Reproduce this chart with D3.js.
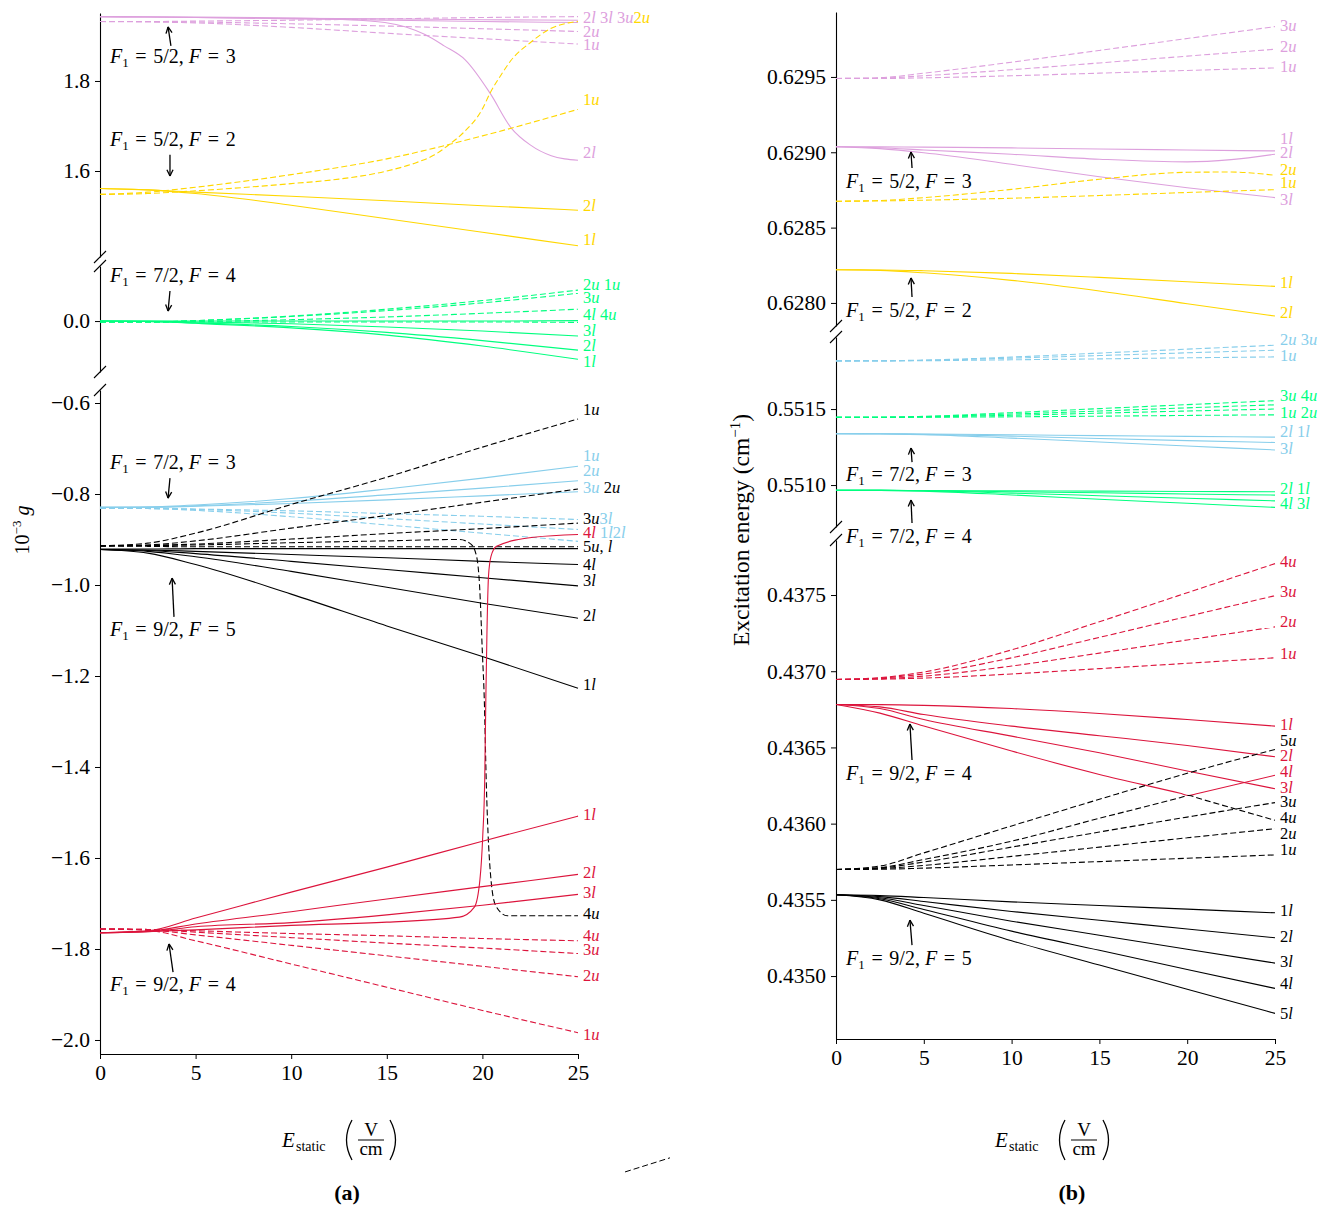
<!DOCTYPE html>
<html lang="en">
<head>
<meta charset="utf-8">
<title>Stark maps</title>
<script src="https://cdn.jsdelivr.net/npm/d3@7"></script>
<style>
  body { margin: 0; background: #fff; }
  svg text { font-family: "Liberation Serif", "DejaVu Serif", serif; }
</style>
</head>
<body>
<script>
"use strict";

// field values shared by most series
const E = [0, 2.5, 5, 10, 15, 20, 25];

// ---------- panel (a): 10^-3 g ----------
const aTopPlumSolid = [
  [1.943, 1.942, 1.941, 1.939, 1.938, 1.936, 1.935],
  [1.943, 1.942, 1.941, 1.938, 1.935, 1.932, 1.930]
];
const aTopPlumDiveE = [0, 5, 10, 12.5, 14.9, 16, 17, 18, 19.1, 20.4, 21.5, 22.5, 23.6, 24.3, 25];
const aTopPlumDive  = [1.943, 1.942, 1.940, 1.937, 1.930, 1.920, 1.903, 1.878, 1.847, 1.773, 1.696, 1.658, 1.634, 1.627, 1.624];
const aTopPlumDashed = [
  [1.932, 1.932, 1.933, 1.935, 1.938, 1.941, 1.943],
  [1.932, 1.932, 1.931, 1.927, 1.922, 1.916, 1.910],
  [1.932, 1.931, 1.929, 1.919, 1.906, 1.894, 1.882]
];
const aTopGoldSolid = [
  [1.561, 1.558, 1.553, 1.544, 1.534, 1.523, 1.513],
  [1.561, 1.558, 1.550, 1.524, 1.494, 1.464, 1.434]
];
const aTopGoldDashed = [
  [1.548, 1.553, 1.564, 1.592, 1.627, 1.678, 1.737]
];
const aTopGoldCrossE = [0, 2.5, 5, 10, 12.5, 15, 16.5, 17.5, 18.3, 19, 20, 20.4, 21, 21.5, 22.5, 23.6, 24.5, 25];
const aTopGoldCross  = [1.548, 1.550, 1.556, 1.572, 1.582, 1.600, 1.618, 1.636, 1.660, 1.685, 1.738, 1.773, 1.815, 1.846, 1.885, 1.917, 1.929, 1.932];

const aMidGreenSolid = [
  [0, -0.001, -0.005, -0.015, -0.031, -0.055, -0.084],
  [0, -0.001, -0.004, -0.012, -0.025, -0.043, -0.064],
  [0, 0, -0.002, -0.006, -0.013, -0.022, -0.033],
  [0, 0, 0, 0, 0, 0, 0.001]
];
const aMidGreenDashed = [
  [-0.002, -0.002, 0.001, 0.010, 0.023, 0.040, 0.061],
  [-0.002, -0.002, 0.001, 0.011, 0.026, 0.045, 0.068],
  [-0.002, -0.002, -0.001, 0.003, 0.009, 0.017, 0.026],
  [-0.002, -0.002, -0.002, -0.002, -0.002, -0.002, -0.003]
];

const aLowSkySolid = [
  [-0.829, -0.828, -0.824, -0.810, -0.789, -0.765, -0.739],
  [-0.829, -0.829, -0.826, -0.816, -0.802, -0.787, -0.771],
  [-0.829, -0.829, -0.827, -0.821, -0.813, -0.804, -0.795]
];
const aLowSkyDashed = [
  [-0.831, -0.831, -0.833, -0.837, -0.843, -0.849, -0.856],
  [-0.831, -0.832, -0.834, -0.842, -0.854, -0.866, -0.878],
  [-0.831, -0.832, -0.836, -0.850, -0.868, -0.886, -0.904]
];
const aLowBlackSolid = [
  [-0.922, -0.930, -0.955, -1.020, -1.090, -1.157, -1.227],
  [-0.922, -0.926, -0.938, -0.970, -1.005, -1.040, -1.073],
  [-0.922, -0.924, -0.931, -0.948, -0.966, -0.984, -1.002],
  [-0.922, -0.923, -0.926, -0.933, -0.940, -0.948, -0.955],
  [-0.921, -0.921, -0.920, -0.920, -0.920, -0.920, -0.920]
];
const aLowBlackDashed = [
  [-0.914, -0.908, -0.886, -0.823, -0.763, -0.697, -0.635],
  [-0.914, -0.912, -0.903, -0.875, -0.847, -0.818, -0.789],
  [-0.914, -0.913, -0.910, -0.899, -0.887, -0.876, -0.864],
  [-0.914, -0.915, -0.916, -0.916, -0.916, -0.916, -0.916]
];
const aLowBlackSwapE = [0, 5, 10, 15, 18.8, 19.4, 19.7, 19.85, 20.0, 20.1, 20.2, 20.45, 20.7, 21.3, 25];
const aLowBlackSwap  = [-0.914, -0.912, -0.907, -0.903, -0.900, -0.910, -0.938, -1.000, -1.150, -1.253, -1.430, -1.648, -1.705, -1.727, -1.727];
const aLowRedSolid = [
  [-1.764, -1.760, -1.732, -1.675, -1.620, -1.563, -1.508],
  [-1.764, -1.761, -1.745, -1.718, -1.690, -1.663, -1.636],
  [-1.764, -1.762, -1.751, -1.742, -1.725, -1.704, -1.680]
];
const aLowRedSwapE = [0, 5, 10, 15, 18.8, 19.58, 19.87, 20.02, 20.12, 20.18, 20.24, 20.32, 20.45, 20.74, 22.7, 25];
const aLowRedSwap  = [-1.765, -1.758, -1.748, -1.741, -1.730, -1.708, -1.648, -1.55, -1.43, -1.25, -1.10, -0.98, -0.937, -0.915, -0.895, -0.889];
const aLowRedDashed = [
  [-1.756, -1.759, -1.782, -1.833, -1.884, -1.935, -1.984],
  [-1.756, -1.758, -1.769, -1.792, -1.815, -1.838, -1.861],
  [-1.756, -1.757, -1.763, -1.775, -1.787, -1.798, -1.810],
  [-1.756, -1.757, -1.760, -1.766, -1.771, -1.777, -1.782]
];

// ---------- panel (b): excitation energy ----------
const bTopPlumDashed = [
  [0.62949, 0.629495, 0.629525, 0.629598, 0.629676, 0.629755, 0.629834],
  [0.62949, 0.629492, 0.629508, 0.629548, 0.629593, 0.629638, 0.629684],
  [0.62949, 0.62949, 0.629494, 0.629508, 0.629525, 0.629543, 0.62956]
];
const bTopPlumSolid = [
  [0.629037, 0.629036, 0.629034, 0.629029, 0.629022, 0.629015, 0.629009],
  [0.629037, 0.629024, 0.628997, 0.628920, 0.628838, 0.628765, 0.628699]
];
const bTopPlumDipE = [0, 2.5, 5, 10, 15, 20, 22.5, 25];
const bTopPlumDip  = [0.629037, 0.629030, 0.629015, 0.628987, 0.628954, 0.628936, 0.628951, 0.628987];
const bTopGoldDashed = [
  [0.628675, 0.628677, 0.628682, 0.628695, 0.628713, 0.628733, 0.628752]
];
const bTopGoldBendE = [0, 2.5, 5, 10, 15, 20, 22.5, 25];
const bTopGoldBend  = [0.628675, 0.628680, 0.628699, 0.628754, 0.628821, 0.628867, 0.628869, 0.628847];
const bTopGoldSolid = [
  [0.62822, 0.628219, 0.628214, 0.628196, 0.62817, 0.628141, 0.62811],
  [0.62822, 0.628216, 0.6282, 0.62815, 0.628079, 0.627995, 0.627913]
];

const bMidSkyDashed = [
  [0.551817, 0.551818, 0.551822, 0.551842, 0.551868, 0.551894, 0.55192],
  [0.551817, 0.551817, 0.55182, 0.551835, 0.551852, 0.55187, 0.551887],
  [0.551817, 0.551817, 0.551818, 0.551824, 0.55183, 0.551837, 0.551843]
];
const bMidSkySolid = [
  [0.551337, 0.551337, 0.551334, 0.551322, 0.551306, 0.551292, 0.55128],
  [0.551337, 0.551337, 0.551336, 0.551331, 0.551325, 0.55132, 0.551315],
  [0.551337, 0.551336, 0.551332, 0.551309, 0.551283, 0.551257, 0.551231]
];
const bMidGreenDashed = [
  [0.551445, 0.551445, 0.551446, 0.551449, 0.551453, 0.551458, 0.551462],
  [0.551445, 0.551445, 0.551448, 0.551459, 0.551473, 0.551487, 0.5515],
  [0.551445, 0.551446, 0.55145, 0.551467, 0.551487, 0.551508, 0.551528],
  [0.551445, 0.551446, 0.551452, 0.551476, 0.551503, 0.551529, 0.551555]
];
const bMidGreenSolid = [
  [0.550965, 0.550965, 0.550963, 0.550956, 0.550949, 0.550941, 0.550934],
  [0.550965, 0.550965, 0.550964, 0.550962, 0.55096, 0.550958, 0.550956],
  [0.550965, 0.550965, 0.55096, 0.550935, 0.550907, 0.55088, 0.550853],
  [0.550965, 0.550965, 0.550962, 0.550947, 0.55093, 0.550913, 0.550896]
];

const bLowRedDashed = [
  [0.436946, 0.436948, 0.436955, 0.436982, 0.437017, 0.437052, 0.437088],
  [0.436946, 0.436951, 0.436968, 0.437034, 0.437119, 0.437205, 0.437291],
  [0.436946, 0.436955, 0.436982, 0.437088, 0.437222, 0.437359, 0.437496],
  [0.436946, 0.436958, 0.436995, 0.43714, 0.437325, 0.437515, 0.437706]
];
const bLowRedSolid = [
  [0.436782, 0.436781, 0.436776, 0.436755, 0.436723, 0.436683, 0.43664],
  [0.436782, 0.436766, 0.436716, 0.43664, 0.436577, 0.436513, 0.436439],
  [0.436782, 0.436755, 0.436683, 0.436574, 0.436465, 0.436345, 0.436229]
];
const bVeeE = [0, 2.5, 5, 10, 15, 19.6, 20.1, 20.6, 25];
const bLowRedVee   = [0.436782, 0.436725, 0.43664, 0.436476, 0.436323, 0.436199, 0.436185, 0.436198, 0.436317];
const bLowBlackVee = [0.435699, 0.435712, 0.435765, 0.435885, 0.436035, 0.43617, 0.436185, 0.436168, 0.436022];
const bLowBlackDashed = [
  [0.435699, 0.435701, 0.435708, 0.435729, 0.435751, 0.435773, 0.435795],
  [0.435699, 0.435705, 0.435726, 0.435785, 0.435846, 0.435907, 0.435967],
  [0.435699, 0.435709, 0.435748, 0.435846, 0.435945, 0.436043, 0.436138],
  [0.435699, 0.435722, 0.435808, 0.435985, 0.43616, 0.43633, 0.436487]
];
const bLowBlackSolid = [
  [0.435533, 0.435528, 0.435515, 0.435487, 0.435463, 0.435439, 0.435415],
  [0.435533, 0.435521, 0.435489, 0.435424, 0.435366, 0.435309, 0.435251],
  [0.435533, 0.435514, 0.435463, 0.43536, 0.435268, 0.435176, 0.435085],
  [0.435533, 0.435507, 0.435437, 0.435295, 0.435169, 0.435043, 0.434919],
  [0.435533, 0.4355, 0.435412, 0.435232, 0.435072, 0.434913, 0.434755]
];

// end labels: [sub-panel, value, [[text, colour key], ...]]
const aLabels = [
  [0, 1.940, [["2l 3l 3u", "P"], ["2u", "G"]]],
  [0, 1.909, [["2u", "P"]]],
  [0, 1.880, [["1u", "P"]]],
  [0, 1.758, [["1u", "G"]]],
  [0, 1.642, [["2l", "P"]]],
  [0, 1.524, [["2l", "G"]]],
  [0, 1.447, [["1l", "G"]]],
  [1, 0.081, [["2u 1u", "N"]]],
  [1, 0.051, [["3u", "N"]]],
  [1, 0.015, [["4l 4u", "N"]]],
  [1, -0.020, [["3l", "N"]]],
  [1, -0.053, [["2l", "N"]]],
  [1, -0.088, [["1l", "N"]]],
  [2, -0.615, [["1u", "K"]]],
  [2, -0.716, [["1u", "S"]]],
  [2, -0.749, [["2u", "S"]]],
  [2, -0.785, [["3u ", "S"], ["2u", "K"]]],
  [2, -0.853, [["3u", "K"], ["3l", "S"]]],
  [2, -0.884, [["4l ", "R"], ["1l2l", "S"]]],
  [2, -0.916, [["5u, l", "K"]]],
  [2, -0.954, [["4l", "K"]]],
  [2, -0.991, [["3l", "K"]]],
  [2, -1.068, [["2l", "K"]]],
  [2, -1.218, [["1l", "K"]]],
  [2, -1.505, [["1l", "R"]]],
  [2, -1.633, [["2l", "R"]]],
  [2, -1.677, [["3l", "R"]]],
  [2, -1.723, [["4u", "K"]]],
  [2, -1.771, [["4u", "R"]]],
  [2, -1.802, [["3u", "R"]]],
  [2, -1.859, [["2u", "R"]]],
  [2, -1.989, [["1u", "R"]]]
];
const bLabels = [
  [0, 0.629838, [["3u", "P"]]],
  [0, 0.629699, [["2u", "P"]]],
  [0, 0.629566, [["1u", "P"]]],
  [0, 0.629088, [["1l", "P"]]],
  [0, 0.628996, [["2l", "P"]]],
  [0, 0.628883, [["2u", "G"]]],
  [0, 0.628796, [["1u", "G"]]],
  [0, 0.628684, [["3l", "P"]]],
  [0, 0.628133, [["1l", "G"]]],
  [0, 0.627934, [["2l", "G"]]],
  [1, 0.551954, [["2u 3u", "S"]]],
  [1, 0.551849, [["1u", "S"]]],
  [1, 0.551586, [["3u 4u", "N"]]],
  [1, 0.55148, [["1u 2u", "N"]]],
  [1, 0.551349, [["2l 1l", "S"]]],
  [1, 0.551243, [["3l", "S"]]],
  [1, 0.55098, [["2l 1l", "N"]]],
  [1, 0.550875, [["4l 3l", "N"]]],
  [2, 0.437717, [["4u", "R"]]],
  [2, 0.43752, [["3u", "R"]]],
  [2, 0.437323, [["2u", "R"]]],
  [2, 0.437113, [["1u", "R"]]],
  [2, 0.436647, [["1l", "R"]]],
  [2, 0.436542, [["5u", "K"]]],
  [2, 0.436444, [["2l", "R"]]],
  [2, 0.436345, [["4l", "R"]]],
  [2, 0.43624, [["3l", "R"]]],
  [2, 0.436142, [["3u", "K"]]],
  [2, 0.436037, [["4u", "K"]]],
  [2, 0.435938, [["2u", "K"]]],
  [2, 0.435833, [["1u", "K"]]],
  [2, 0.435433, [["1l", "K"]]],
  [2, 0.435262, [["2l", "K"]]],
  [2, 0.435092, [["3l", "K"]]],
  [2, 0.434954, [["4l", "K"]]],
  [2, 0.434757, [["5l", "K"]]]
];

// hyperfine annotations: [sub, F1, F, textE, textV, tailE, tailV, headE, headV]
const aNotes = [
  [0, "5/2", "3", 0.52, 1.856, 3.71, 1.878, 3.56, 1.920],
  [0, "5/2", "2", 0.52, 1.671, 3.66, 1.636, 3.66, 1.589],
  [1, "7/2", "4", 0.52, 0.101, 3.66, 0.066, 3.56, 0.022],
  [2, "7/2", "3", 0.52, -0.730, 3.66, -0.765, 3.56, -0.809],
  [2, "9/2", "5", 0.52, -1.097, 3.87, -1.070, 3.77, -0.985],
  [2, "9/2", "4", 0.52, -1.877, 3.82, -1.851, 3.61, -1.789]
];
const bNotes = [
  [0, "5/2", "3", 0.57, 0.628810, 4.33, 0.628896, 4.27, 0.629002],
  [0, "5/2", "2", 0.57, 0.627954, 4.33, 0.628040, 4.27, 0.628166],
  [1, "7/2", "3", 0.57, 0.551072, 4.33, 0.551151, 4.27, 0.551243],
  [1, "7/2", "4", 0.57, 0.550664, 4.33, 0.550750, 4.27, 0.550901],
  [2, "9/2", "4", 0.57, 0.436332, 4.33, 0.436417, 4.21, 0.436654],
  [2, "9/2", "5", 0.57, 0.435118, 4.33, 0.435203, 4.21, 0.435367]
];

const xTicks = [0, 5, 10, 15, 20, 25];

// ---------- layout ----------
const colour = { P: "plum", G: "gold", N: "springgreen", S: "skyblue", R: "crimson", K: "black" };

const svg = d3.select("body").append("svg")
  .attr("width", 1339)
  .attr("height", 1208);

const panels = {
  a: {
    x: d3.scaleLinear().domain([0, 25]).range([100, 578]),
    subs: [
      { y: d3.scaleLinear().domain([1.409, 1.951]).range([257, 13]), ticks: [1.6, 1.8], fmt: ".1f" },
      { y: d3.scaleLinear().domain([-0.112, 0.121]).range([372, 266]), ticks: [0.0], fmt: ".1f" },
      { y: d3.scaleLinear().domain([-2.0308, -0.5714]).range([1054, 390]),
        ticks: [-2.0, -1.8, -1.6, -1.4, -1.2, -1.0, -0.8, -0.6], fmt: ".1f" }
    ]
  },
  b: {
    x: d3.scaleLinear().domain([0, 25]).range([836, 1275]),
    subs: [
      { y: d3.scaleLinear().domain([0.627847, 0.629931]).range([326, 12]),
        ticks: [0.6280, 0.6285, 0.6290, 0.6295], fmt: ".4f" },
      { y: d3.scaleLinear().domain([0.550724, 0.551974]).range([527, 337]),
        ticks: [0.5510, 0.5515], fmt: ".4f" },
      { y: d3.scaleLinear().domain([0.434587, 0.437861]).range([1039, 540]),
        ticks: [0.4350, 0.4355, 0.4360, 0.4365, 0.4370, 0.4375], fmt: ".4f" }
    ]
  }
};

// ---------- axes ----------
Object.values(panels).forEach(function(p) {
  p.subs.forEach(function(s, i) {
    let g = svg.append("g")
      .attr("transform", "translate(" + p.x(0) + ",0)")
      .call(d3.axisLeft(s.y).tickValues(s.ticks).tickFormat(d3.format(s.fmt))
        .tickSize(5).tickSizeOuter(0).tickPadding(5));
    g.selectAll("text").attr("font-size", 21.5).attr("font-family", "Liberation Serif");
    g.select(".domain").attr("stroke-width", 1.1);

    // break marks
    let r = s.y.range();
    if (i > 0) breakMark(p.x(0), r[1]);
    if (i < p.subs.length - 1) breakMark(p.x(0), r[0]);
  });
  let last = p.subs[p.subs.length - 1];
  let gx = svg.append("g")
    .attr("transform", "translate(0," + last.y.range()[0] + ")")
    .call(d3.axisBottom(p.x).tickValues(xTicks).tickFormat(d3.format("d"))
      .tickSize(5).tickSizeOuter(0).tickPadding(6));
  gx.selectAll("text").attr("font-size", 21.5).attr("font-family", "Liberation Serif");
  gx.select(".domain").attr("stroke-width", 1.1);
});

function breakMark(x, y) {
  svg.append("line")
    .attr("x1", x - 6).attr("y1", y + 6)
    .attr("x2", x + 6).attr("y2", y - 6)
    .attr("stroke", "black").attr("stroke-width", 1.1);
}

// ---------- curves ----------
function drawGroup(pk, sub, key, dashed, list) {
  let p = panels[pk], s = p.subs[sub];
  let line = d3.line()
    .x(function(d) { return p.x(d[0]); })
    .y(function(d) { return s.y(d[1]); })
    .curve(d3.curveMonotoneX);
  list.forEach(function(vals) {
    let pts = Array.isArray(vals)
      ? vals.map(function(v, i) { return [E[i], v]; })
      : vals.e.map(function(e, i) { return [e, vals.v[i]]; });
    svg.append("path")
      .attr("d", line(pts))
      .attr("fill", "none")
      .attr("stroke", colour[key])
      .attr("stroke-width", 1.1)
      .attr("stroke-dasharray", dashed ? "6,3" : null);
  });
}

drawGroup("a", 0, "P", true, aTopPlumDashed);
drawGroup("a", 0, "P", false, aTopPlumSolid.concat([{ e: aTopPlumDiveE, v: aTopPlumDive }]));
drawGroup("a", 0, "G", true, aTopGoldDashed.concat([{ e: aTopGoldCrossE, v: aTopGoldCross }]));
drawGroup("a", 0, "G", false, aTopGoldSolid);
drawGroup("a", 1, "N", true, aMidGreenDashed);
drawGroup("a", 1, "N", false, aMidGreenSolid);
drawGroup("a", 2, "S", true, aLowSkyDashed);
drawGroup("a", 2, "S", false, aLowSkySolid);
drawGroup("a", 2, "K", true, aLowBlackDashed.concat([{ e: aLowBlackSwapE, v: aLowBlackSwap }]));
drawGroup("a", 2, "K", false, aLowBlackSolid);
drawGroup("a", 2, "R", true, aLowRedDashed);
drawGroup("a", 2, "R", false, aLowRedSolid.concat([{ e: aLowRedSwapE, v: aLowRedSwap }]));

drawGroup("b", 0, "P", true, bTopPlumDashed);
drawGroup("b", 0, "P", false, bTopPlumSolid.concat([{ e: bTopPlumDipE, v: bTopPlumDip }]));
drawGroup("b", 0, "G", true, bTopGoldDashed.concat([{ e: bTopGoldBendE, v: bTopGoldBend }]));
drawGroup("b", 0, "G", false, bTopGoldSolid);
drawGroup("b", 1, "S", true, bMidSkyDashed);
drawGroup("b", 1, "S", false, bMidSkySolid);
drawGroup("b", 1, "N", true, bMidGreenDashed);
drawGroup("b", 1, "N", false, bMidGreenSolid);
drawGroup("b", 2, "R", true, bLowRedDashed);
drawGroup("b", 2, "R", false, bLowRedSolid.concat([{ e: bVeeE, v: bLowRedVee }]));
drawGroup("b", 2, "K", true, bLowBlackDashed.concat([{ e: bVeeE, v: bLowBlackVee }]));
drawGroup("b", 2, "K", false, bLowBlackSolid);

// ---------- end labels ----------
function drawLabels(pk, labels) {
  let p = panels[pk];
  labels.forEach(function(l) {
    let t = svg.append("text")
      .attr("x", p.x(25) + 5)
      .attr("y", p.subs[l[0]].y(l[1]))
      .attr("dy", "0.33em")
      .attr("font-size", 16.5)
      .style("white-space", "pre");
    l[2].forEach(function(seg) {
      seg[0].match(/[a-z]+|[^a-z]+/g).forEach(function(tok) {
        t.append("tspan")
          .attr("fill", colour[seg[1]])
          .attr("font-style", /[a-z]/.test(tok) ? "italic" : null)
          .text(tok);
      });
    });
  });
}
drawLabels("a", aLabels);
drawLabels("b", bLabels);

// ---------- annotations ----------
function drawNotes(pk, notes) {
  let p = panels[pk];
  notes.forEach(function(n) {
    let s = p.subs[n[0]];
    let t = svg.append("text")
      .attr("x", p.x(n[3]))
      .attr("y", s.y(n[4]))
      .attr("dy", "0.35em")
      .attr("font-size", 20)
      .style("white-space", "pre");
    t.append("tspan").attr("font-style", "italic").text("F");
    t.append("tspan").attr("font-size", 13).attr("dy", 4).text("1");
    t.append("tspan").attr("dy", -4).text("\u2004=\u2004" + n[1] + ", ");
    t.append("tspan").attr("font-style", "italic").text("F");
    t.append("tspan").text("\u2004=\u2004" + n[2]);

    let x1 = p.x(n[5]), y1 = s.y(n[6]), x2 = p.x(n[7]), y2 = s.y(n[8]);
    svg.append("line")
      .attr("x1", x1).attr("y1", y1).attr("x2", x2).attr("y2", y2)
      .attr("stroke", "black").attr("stroke-width", 1.3);
    let ang = Math.atan2(y2 - y1, x2 - x1);
    [-0.45, 0.45].forEach(function(da) {
      svg.append("line")
        .attr("x1", x2).attr("y1", y2)
        .attr("x2", x2 - 7 * Math.cos(ang + da))
        .attr("y2", y2 - 7 * Math.sin(ang + da))
        .attr("stroke", "black").attr("stroke-width", 1.3);
    });
  });
}
drawNotes("a", aNotes);
drawNotes("b", bNotes);

// ---------- axis titles ----------
function paren(g, x, bow) {
  g.append("path")
    .attr("d", "M" + x + ",-20 Q" + (x + bow) + ",0 " + x + ",20")
    .attr("fill", "none").attr("stroke", "black").attr("stroke-width", 1.3);
}
function xTitle(cx, cy) {
  let g = svg.append("g").attr("transform", "translate(" + cx + "," + cy + ")");
  g.append("text").attr("x", -58).attr("y", 7).attr("font-size", 21).attr("font-style", "italic").text("E");
  g.append("text").attr("x", -44).attr("y", 11).attr("font-size", 14).text("static");
  paren(g, 12, -11);
  g.append("text").attr("x", 31).attr("y", -4).attr("font-size", 19).attr("text-anchor", "middle").text("V");
  g.append("line").attr("x1", 18).attr("x2", 44).attr("y1", 0).attr("y2", 0)
    .attr("stroke", "black").attr("stroke-width", 1);
  g.append("text").attr("x", 31).attr("y", 15).attr("font-size", 19).attr("text-anchor", "middle").text("cm");
  paren(g, 50, 11);
}
xTitle(340, 1140);
xTitle(1053, 1140);

svg.append("text").attr("x", 347).attr("y", 1200).attr("text-anchor", "middle")
  .attr("font-size", 22).attr("font-weight", "bold").text("(a)");
svg.append("text").attr("x", 1072).attr("y", 1200).attr("text-anchor", "middle")
  .attr("font-size", 22).attr("font-weight", "bold").text("(b)");

let ya = svg.append("text").attr("transform", "translate(29,530) rotate(-90)")
  .attr("text-anchor", "middle").attr("font-size", 20);
ya.append("tspan").text("10");
ya.append("tspan").attr("font-size", 13).attr("dy", -8).text("\u22123");
ya.append("tspan").attr("dy", 8).attr("font-style", "italic").text(" g");

let yb = svg.append("text").attr("transform", "translate(749,530) rotate(-90)")
  .attr("text-anchor", "middle").attr("font-size", 23.5);
yb.append("tspan").text("Excitation energy (cm");
yb.append("tspan").attr("font-size", 15).attr("dy", -9).text("\u22121");
yb.append("tspan").attr("dy", 9).text(")");

// stray dashed stub below panel (a)
svg.append("line")
  .attr("x1", panels.a.x(27.46)).attr("y1", panels.a.subs[2].y(-2.290))
  .attr("x2", panels.a.x(29.81)).attr("y2", panels.a.subs[2].y(-2.259))
  .attr("stroke", "black").attr("stroke-width", 1).attr("stroke-dasharray", "6,3");
</script>
</body>
</html>
